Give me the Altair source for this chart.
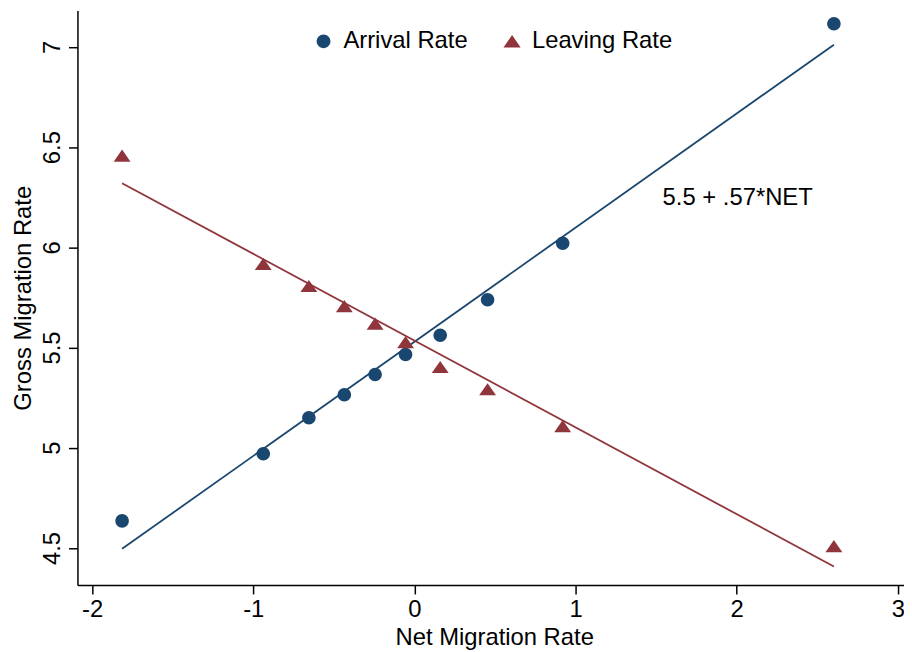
import altair as alt
import pandas as pd

# Data
net = [-1.814, -0.938, -0.655, -0.435, -0.244, -0.055, 0.160, 0.454, 0.920, 2.603]
arrival = [4.635, 4.970, 5.150, 5.264, 5.366, 5.465, 5.561, 5.738, 6.021, 7.116]
leaving = [6.458, 5.917, 5.807, 5.707, 5.619, 5.527, 5.403, 5.292, 5.108, 4.509]
series_names = ["Arrival Rate", "Leaving Rate"]
series_colors = ["#1a476f", "#90353b"]
x_ticks = [-2, -1, 0, 1, 2, 3]
y_ticks = [4.5, 5, 5.5, 6, 6.5, 7]
annotation = "5.5 + .57*NET"

rows = []
for n, a, l in zip(net, arrival, leaving):
    rows.append({"net": n, "rate": a, "series": series_names[0]})
    rows.append({"net": n, "rate": l, "series": series_names[1]})
df = pd.DataFrame(rows)

FONT = "Liberation Sans"
FS = 24

circle_path = "M-0.8,0A0.8,0.8 0 1,0 0.8,0A0.8,0.8 0 1,0 -0.8,0Z"
tri_path = "M0,-0.72L1,0.72L-1,0.72Z"

xscale = alt.Scale(domain=[-2.091, 3.038], nice=False, zero=False)
yscale = alt.Scale(domain=[4.315, 7.182], nice=False, zero=False)

xenc = alt.X("net:Q", scale=xscale,
             axis=alt.Axis(values=x_ticks, title="Net Migration Rate", titleX=420,
                           labelExpr="'' + datum.value"))
yenc = alt.Y("rate:Q", scale=yscale,
             axis=alt.Axis(values=y_ticks, title="Gross Migration Rate",
                           labelAngle=-90, labelExpr="'' + datum.value"))

legend_spec = alt.Legend(title=None, orient="none", direction="horizontal",
                         legendX=236, legendY=19)

base = alt.Chart(df)

points = base.mark_point(filled=True, size=290, opacity=1).encode(
    x=xenc,
    y=yenc,
    color=alt.Color("series:N", scale=alt.Scale(domain=series_names, range=series_colors),
                    legend=legend_spec),
    shape=alt.Shape("series:N", scale=alt.Scale(domain=series_names, range=[circle_path, tri_path]),
                    legend=legend_spec),
)

fit_layers = []
for name, col in zip(series_names, series_colors):
    fit_layers.append(
        base.transform_filter(alt.datum.series == name)
        .transform_regression("net", "rate")
        .mark_line(strokeWidth=1.8, color=col)
        .encode(x=alt.X("net:Q", scale=xscale), y=alt.Y("rate:Q", scale=yscale))
    )

text = alt.Chart(pd.DataFrame({"label": [annotation]})).mark_text(
    align="left", baseline="middle", fontSize=FS, font=FONT, color="black"
).encode(
    x=alt.datum(1.54),
    y=alt.datum(6.247),
    text="label:N",
)

chart = alt.layer(*fit_layers, points, text).properties(
    width=833, height=579,
    autosize=alt.AutoSizeParams(type="none"),
    padding={"left": 70, "top": 0, "right": 0, "bottom": 65},
    background="white",
).configure_view(stroke=None).configure_axis(
    grid=False,
    domainColor="black", domainWidth=1.5,
    tickColor="black", tickWidth=1.5, tickSize=9,
    labelFont=FONT, labelFontSize=FS, labelColor="black", labelPadding=4,
    titleFont=FONT, titleFontSize=FS, titleColor="black", titleFontWeight="normal",
).configure_axisY(titlePadding=5).configure_legend(
    labelFont=FONT, labelFontSize=FS, labelColor="black",
    symbolSize=300, symbolStrokeWidth=0, labelOffset=8, columnPadding=32,
)

chart.save("out.html", embed_options={"renderer": "svg", "actions": False})
